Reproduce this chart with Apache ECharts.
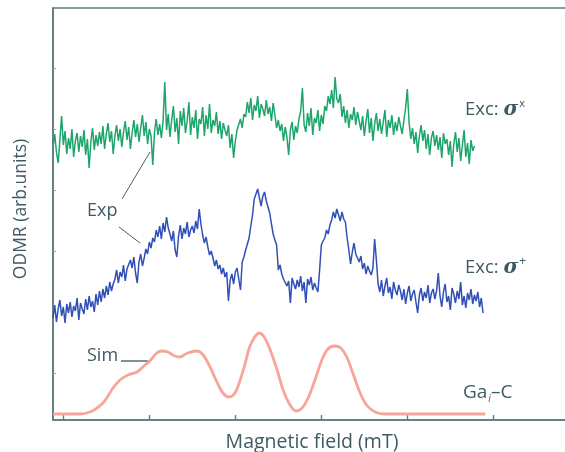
<!DOCTYPE html>
<html>
<head>
<meta charset="utf-8">
<script src="https://cdn.jsdelivr.net/npm/echarts@6/dist/echarts.min.js"></script>
<style>
  html, body { margin: 0; padding: 0; background: #ffffff; }
  #chart { width: 565px; height: 452px; }
</style>
</head>
<body>
<div id="chart"></div>
<script>
// Magnetic field sampling of the measured traces (mT, arbitrary offset)
const fieldStart = -1.16;
const fieldStep = 0.2;

// Measured ODMR, excitation σx (arb. units, vertically offset)
const excSigmaX = [
  272, 286, 268, 257, 280, 304, 275, 289, 266, 282,
  271, 291, 263, 279, 287, 268, 284, 273, 290, 265,
  281, 252, 278, 292, 270, 285, 274, 288,
  276, 294, 271, 286, 297, 278, 289, 266, 284, 295,
  279, 291, 273, 288, 299, 280, 293, 271, 287, 300,
  283, 296, 278, 292, 305, 284, 298, 276, 291,
  284, 255,
  288, 301, 285, 296, 282, 299,
  338,
  290, 306, 283, 300, 314, 288, 302, 276, 309, 294,
  312, 287, 299, 318, 285, 303, 292, 310, 281, 301,
  296, 313, 284, 305, 291, 316, 287, 300, 294, 308,
  286, 299, 281, 297, 290, 284, 295,
  272, 286, 262, 279, 290,
  288, 301, 292, 306,
  303, 318, 307, 322, 300, 315, 309, 324, 302, 316,
  311, 304, 320, 306, 313, 299, 317,
  305, 292, 300, 289,
  296, 279, 293, 283, 265, 290, 298, 280, 294, 287, 301,
  309, 332,
  295, 288, 307, 294, 312, 285, 302, 297, 310, 289, 305, 296, 314,
  309, 324, 316, 330, 312, 343, 321, 317,
  326, 303, 314, 297, 310, 292, 306, 300, 313, 295, 308, 299,
  290, 304, 284, 299, 311, 287, 302, 279, 296, 307,
  289, 301, 286, 298, 310, 283, 300, 292, 305, 285,
  298, 289, 303, 294, 286, 300, 312,
  331,
  298, 281, 292, 276, 288, 267, 284, 295, 279, 290, 271, 286, 265, 282,
  289, 274, 285, 270, 283, 262, 287, 276,
  281, 265, 279, 253, 276, 288, 268, 282, 259, 275, 290, 263, 277, 256, 280, 269, 274
];

// Measured ODMR, excitation σ+ (arb. units, vertically offset)
const excSigmaPlus = [
  102, 115, 98, 111, 120, 104, 113, 97, 116, 107,
  118, 103, 114, 109, 122, 100, 117, 111, 106, 121,
  110, 124, 113, 119, 108, 126, 115,
  129, 118, 131, 122, 134, 125, 138, 129, 136,
  141, 150, 137, 148, 143, 155, 139, 151,
  149, 160, 152, 163, 147, 137, 158, 166, 154,
  162, 171, 166, 178, 172, 182,
  178, 190, 183, 194, 181,
  197, 188, 203, 192,
  186, 179, 189,
  170, 163,
  184, 195, 181, 192, 186, 198, 183, 190,
  194, 187, 199, 191, 211, 196,
  185, 177, 183,
  173, 165, 169,
  162, 154, 160, 151,
  155, 146, 152, 143, 148,
  119,
  140, 146, 136, 148,
  152, 141, 130, 158, 163, 170, 176, 182, 194, 205,
  221, 226, 231, 222, 214, 224, 228, 219, 213, 207,
  196, 186, 180, 175, 150, 155, 146, 141,
  143, 134, 139, 117, 142, 136,
  131, 140, 133, 144, 129, 138, 117, 141, 135, 143, 130, 137,
  132, 128, 150, 175, 179, 182, 190, 186, 195, 200,
  208, 202, 211, 205, 199, 208, 201, 198, 182, 170,
  156, 168, 177, 166, 162, 158, 164,
  151, 157, 146, 154, 149, 145, 152, 181, 160,
  136, 128, 140, 124, 134, 142, 127, 133, 121, 138, 130, 125, 135,
  129, 120, 131, 116, 127, 134, 119, 126, 130, 118,
  107,
  125, 132, 119, 128, 122, 135, 117, 127, 131, 121, 129,
  147,
  124, 113, 128, 136, 118, 124, 110, 132, 126, 117, 129, 121, 138,
  115, 124, 112, 127, 120, 131, 116, 125, 119, 128, 113, 122,
  107
];

// Simulated Ga_i–C spectrum: field (mT) and intensity (arb. units)
const simField = [
  -1.16, 1.98, 3.14, 3.95, 4.65, 5.23, 5.81, 6.63, 7.56, 8.60, 9.53, 10.1, 10.9, 11.5,
  12.2, 13.0, 13.6, 14.5, 15.6, 16.3, 17.1, 17.9, 18.6, 19.3, 20.0, 20.6, 21.2, 21.7,
  22.3, 22.8, 23.4, 24.1, 24.9, 25.6, 26.4, 27.1, 27.8, 28.5, 29.3, 30.1, 30.8, 31.6,
  32.3, 33.0, 33.7, 34.5, 35.3, 36.3, 37.4, 49.1
];
const simIntensity = [
  6, 6, 8, 12, 17, 24, 32, 40, 45, 48, 55, 59, 67, 69,
  68, 64, 63, 67, 69, 65, 53, 38, 27, 23, 27, 40, 57, 73,
  83, 87, 83, 70, 50, 30, 15, 9, 12, 22, 40, 60, 71, 74,
  72, 63, 47, 28, 15, 8, 6, 6
];

// Axis tick positions (no numeric labels are shown on this figure)
const fieldTicks = [0, 10, 20, 30, 40, 50];
const odmrTicks = [47, 108, 169, 230, 291, 352];

const axisColor = '#5f7a80';
const textColor = '#3e5a62';
const fontFamily = '"Open Sans", "Noto Sans", sans-serif';

function sampled(values) {
  return values.map((v, i) => [fieldStart + i * fieldStep, v]);
}
function paired(xs, ys) {
  return xs.map((x, i) => [x, ys[i]]);
}

const chart = echarts.init(document.getElementById('chart'), null, { renderer: 'canvas' });

chart.setOption({
  animation: false,
  backgroundColor: '#ffffff',
  grid: {
    left: 53, right: -6, top: 8, bottom: 32,
    containLabel: false,
    outerBoundsMode: 'none',
    // frame line along the top edge (the right edge falls outside the canvas)
    show: true,
    borderColor: axisColor,
    borderWidth: 1.6,
    backgroundColor: 'transparent'
  },
  xAxis: {
    type: 'value',
    min: -1.16,
    max: 59.07,
    name: 'Magnetic field (mT)',
    nameLocation: 'middle',
    nameGap: 12,
    nameTextStyle: { color: textColor, fontSize: 19.5, fontFamily: fontFamily },
    axisLine: { show: true, onZero: false, lineStyle: { color: axisColor, width: 1.6 } },
    axisTick: { show: true, inside: true, length: 5, customValues: fieldTicks,
                lineStyle: { color: axisColor, width: 1.4 } },
    axisLabel: { show: false },
    splitLine: { show: false }
  },
  yAxis: {
    type: 'value',
    min: 0,
    max: 412,
    axisLine: { show: true, onZero: false, lineStyle: { color: axisColor, width: 1.6 } },
    axisTick: { show: true, inside: true, length: 3, customValues: odmrTicks,
                lineStyle: { color: '#8fa3a8', width: 1 } },
    axisLabel: { show: false },
    splitLine: { show: false }
  },
  series: [
    {
      name: 'Exc: σx',
      type: 'line',
      data: sampled(excSigmaX),
      showSymbol: false,
      lineStyle: { color: '#1ea56c', width: 1.5 },
      z: 3
    },
    {
      name: 'Exc: σ+',
      type: 'line',
      data: sampled(excSigmaPlus),
      showSymbol: false,
      lineStyle: { color: '#3050b8', width: 1.5 },
      z: 3
    },
    {
      name: 'Gai–C',
      type: 'line',
      data: paired(simField, simIntensity),
      showSymbol: false,
      smooth: 0.35,
      lineStyle: { color: '#f6a598', width: 2.8 },
      z: 2
    }
  ],
  graphic: [
    // vertical axis title
    {
      type: 'text', x: 21, y: 209, rotation: Math.PI / 2,
      style: { text: 'ODMR (arb.units)', fontSize: 17.5, fill: textColor, fontFamily: fontFamily,
               align: 'center', verticalAlign: 'middle' }
    },
    // trace captions at the right-hand side
    {
      type: 'text', x: 465, y: 110,
      style: {
        text: '{a|Exc: }{s|σ}{p|x}',
        verticalAlign: 'middle',
        rich: {
          a: { fontSize: 18.5, fill: textColor, fontFamily: fontFamily },
          s: { fontSize: 20, fill: textColor, fontStyle: 'italic', fontWeight: 'bold',
               fontFamily: '"DejaVu Serif", serif' },
          p: { fontSize: 11, fill: textColor, fontFamily: fontFamily, padding: [0, 0, 12, 1] }
        }
      }
    },
    {
      type: 'text', x: 465, y: 268,
      style: {
        text: '{a|Exc: }{s|σ}{p|+}',
        verticalAlign: 'middle',
        rich: {
          a: { fontSize: 18.5, fill: textColor, fontFamily: fontFamily },
          s: { fontSize: 20, fill: textColor, fontStyle: 'italic', fontWeight: 'bold',
               fontFamily: '"DejaVu Serif", serif' },
          p: { fontSize: 12, fill: textColor, fontFamily: fontFamily, padding: [0, 0, 12, 1] }
        }
      }
    },
    {
      type: 'text', x: 463, y: 393,
      style: {
        text: '{a|Ga}{i|i}{a|–C}',
        verticalAlign: 'middle',
        rich: {
          a: { fontSize: 19, fill: textColor, fontFamily: fontFamily },
          i: { fontSize: 10, fill: textColor, fontStyle: 'italic', fontFamily: fontFamily,
               padding: [12, 0, 0, 1] }
        }
      }
    },
    // "Exp" caption with leader lines to both measured traces
    {
      type: 'text', x: 87, y: 211,
      style: { text: 'Exp', fontSize: 18, fill: textColor, fontFamily: fontFamily,
               verticalAlign: 'middle' }
    },
    {
      type: 'line',
      shape: { x1: 122, y1: 199, x2: 150, y2: 152 },
      style: { stroke: '#4a6066', lineWidth: 1 }
    },
    {
      type: 'line',
      shape: { x1: 119, y1: 227, x2: 140, y2: 243 },
      style: { stroke: '#4a6066', lineWidth: 1 }
    },
    // "Sim" caption with leader line to the simulated curve
    {
      type: 'text', x: 87, y: 356,
      style: { text: 'Sim', fontSize: 18, fill: textColor, fontFamily: fontFamily,
               verticalAlign: 'middle' }
    },
    {
      type: 'line',
      shape: { x1: 121, y1: 361, x2: 148, y2: 361 },
      style: { stroke: '#2e4a52', lineWidth: 1.2 }
    }
  ]
});
</script>
</body>
</html>
